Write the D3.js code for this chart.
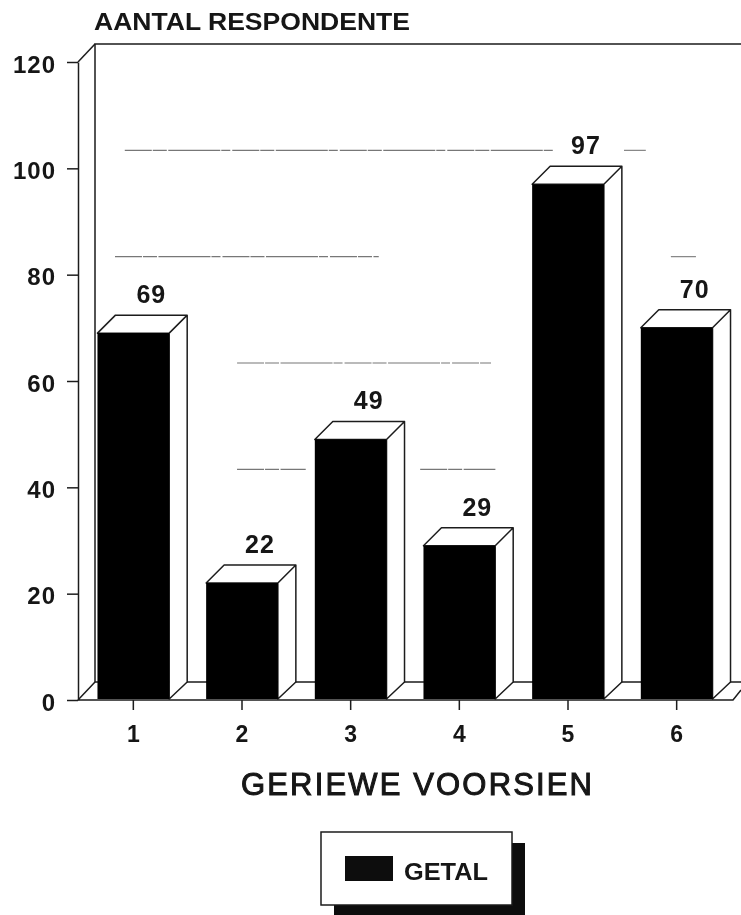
<!DOCTYPE html>
<html><head><meta charset="utf-8">
<script src="https://cdn.jsdelivr.net/npm/d3@7/dist/d3.min.js"></script>
<style>html,body{margin:0;padding:0;background:#fff}svg{display:block}
text{font-family:"Liberation Sans",Arial,sans-serif;font-weight:700;fill:#141414}</style>
</head><body><svg id="c" width="741" height="915"></svg>
<script>
const categories = ["1","2","3","4","5","6"];
const values = [69,22,49,29,97,70];
const yTicks = [0,20,40,60,80,100,120];
const gridValues = [100,100,80,80,60,40,40];
const gridFrom = [0.42,5.0,0.33,5.43,1.45,1.45,3.13];
const gridTo = [4.36,5.2,2.75,5.66,3.78,2.08,3.82];
const titleText = "AANTAL RESPONDENTE";
const xTitleText = "GERIEWE VOORSIEN";
const legendText = "GETAL";

const svg = d3.select("#c");
const defs = svg.append("defs");
defs.append("filter").attr("id","scan").attr("filterUnits","userSpaceOnUse").attr("x",0).attr("y",0).attr("width",741).attr("height",915)
  .append("feGaussianBlur").attr("stdDeviation",0.65);
const g = svg.append("g").attr("filter","url(#scan)");

const x = d3.scaleBand().domain(categories).range([79,731]).paddingInner(0.34).paddingOuter(0.17);
const xUnit = d3.scaleLinear().domain([0,6]).range([79,733]);
const y = d3.scaleLinear().domain([0,120]).range([700,62]);
const dx = 18, dy = 18;
const ink = "#1c1c1c";
const sw = 1.5;

// walls and floor
const wall = g.append("g").attr("fill","none").attr("stroke",ink).attr("stroke-width",sw);
wall.append("path").attr("d",`M95,${y(0)-dy}V${y(120)-dy}H741`);
wall.append("path").attr("d",`M78,${y(120)}L95,${y(120)-dy}`);
wall.append("path").attr("d",`M95,${y(0)-dy}H741M78,${y(0)}L95,${y(0)-dy}M78,${y(0)}H733L741,${y(0)-10}`);

// gridline fragments left by the scan
g.selectAll("line.grid").data(gridValues).join("line").attr("class","grid")
  .attr("x1",(d,i)=>xUnit(gridFrom[i])).attr("x2",(d,i)=>xUnit(gridTo[i]))
  .attr("y1",d=>y(d)-dy).attr("y2",d=>y(d)-dy)
  .attr("stroke","#777").attr("stroke-width",1.1).attr("stroke-dasharray","27 1 14 1.5 52 1 9 2");

// axes
const yAxis = d3.axisLeft(y).tickValues(yTicks).tickSize(11).tickSizeOuter(0).tickPadding(11);
const ya = g.append("g").attr("transform","translate(78,0)").call(yAxis);
const xAxis = d3.axisBottom(x).tickSize(10).tickSizeOuter(0).tickPadding(16);
const xa = g.append("g").attr("transform",`translate(0,${y(0)})`).call(xAxis);
[ya,xa].forEach(a=>{
  a.selectAll(".tick line").attr("stroke",ink).attr("stroke-width",sw);
  a.selectAll("text").style("font-family",'"Liberation Sans",Arial,sans-serif').style("font-weight",700).attr("fill","#141414");
});
ya.select(".domain").attr("stroke",ink).attr("stroke-width",sw);
xa.select(".domain").remove();
ya.selectAll("text").style("font-size","24px").style("letter-spacing","1px").attr("dy","0.42em");
xa.selectAll("text").style("font-size","23px");

// bars
const bars = g.selectAll("g.bar").data(values).join("g").attr("class","bar");
const L = (d,i)=>x(categories[i]), R = (d,i)=>x(categories[i])+x.bandwidth();
bars.append("path").attr("fill","#fff").attr("stroke",ink).attr("stroke-width",sw).attr("stroke-linejoin","round")
  .attr("d",(d,i)=>`M${L(d,i)},${y(d)}L${L(d,i)+dx},${y(d)-dy}H${R(d,i)+dx}V${y(0)-dy}L${R(d,i)},${y(0)-1}V${y(d)}Z M${R(d,i)},${y(d)}L${R(d,i)+dx},${y(d)-dy}`);
bars.append("rect").attr("x",L).attr("y",d=>y(d)).attr("width",x.bandwidth()).attr("height",d=>y(0)-1-y(d))
  .attr("fill","#000");
bars.append("text").attr("x",(d,i)=>L(d,i)+x.bandwidth()/2+dx).attr("y",d=>y(d)-dy-12)
  .attr("text-anchor","middle").style("font-size","25px").style("letter-spacing","1px").text(d=>d);

// titles
g.append("text").attr("x",94).attr("y",30).style("font-size","23.5px").attr("textLength",316).attr("lengthAdjust","spacingAndGlyphs").text(titleText);
g.append("text").attr("x",241).attr("y",795).style("font-size","31px").style("font-weight",400).attr("stroke","#141414").attr("stroke-width",1).attr("textLength",351).attr("lengthAdjust","spacing").text(xTitleText);

// legend
g.append("rect").attr("x",334).attr("y",843).attr("width",191).attr("height",72).attr("fill","#0a0a0a");
g.append("rect").attr("x",321).attr("y",832).attr("width",191).attr("height",73).attr("fill","#fff").attr("stroke",ink).attr("stroke-width",sw);
g.append("rect").attr("x",345).attr("y",856).attr("width",48).attr("height",25).attr("fill","#111");
g.append("text").attr("x",404).attr("y",880).style("font-size","24.5px").attr("textLength",84).attr("lengthAdjust","spacingAndGlyphs").text(legendText);
</script></body></html>
